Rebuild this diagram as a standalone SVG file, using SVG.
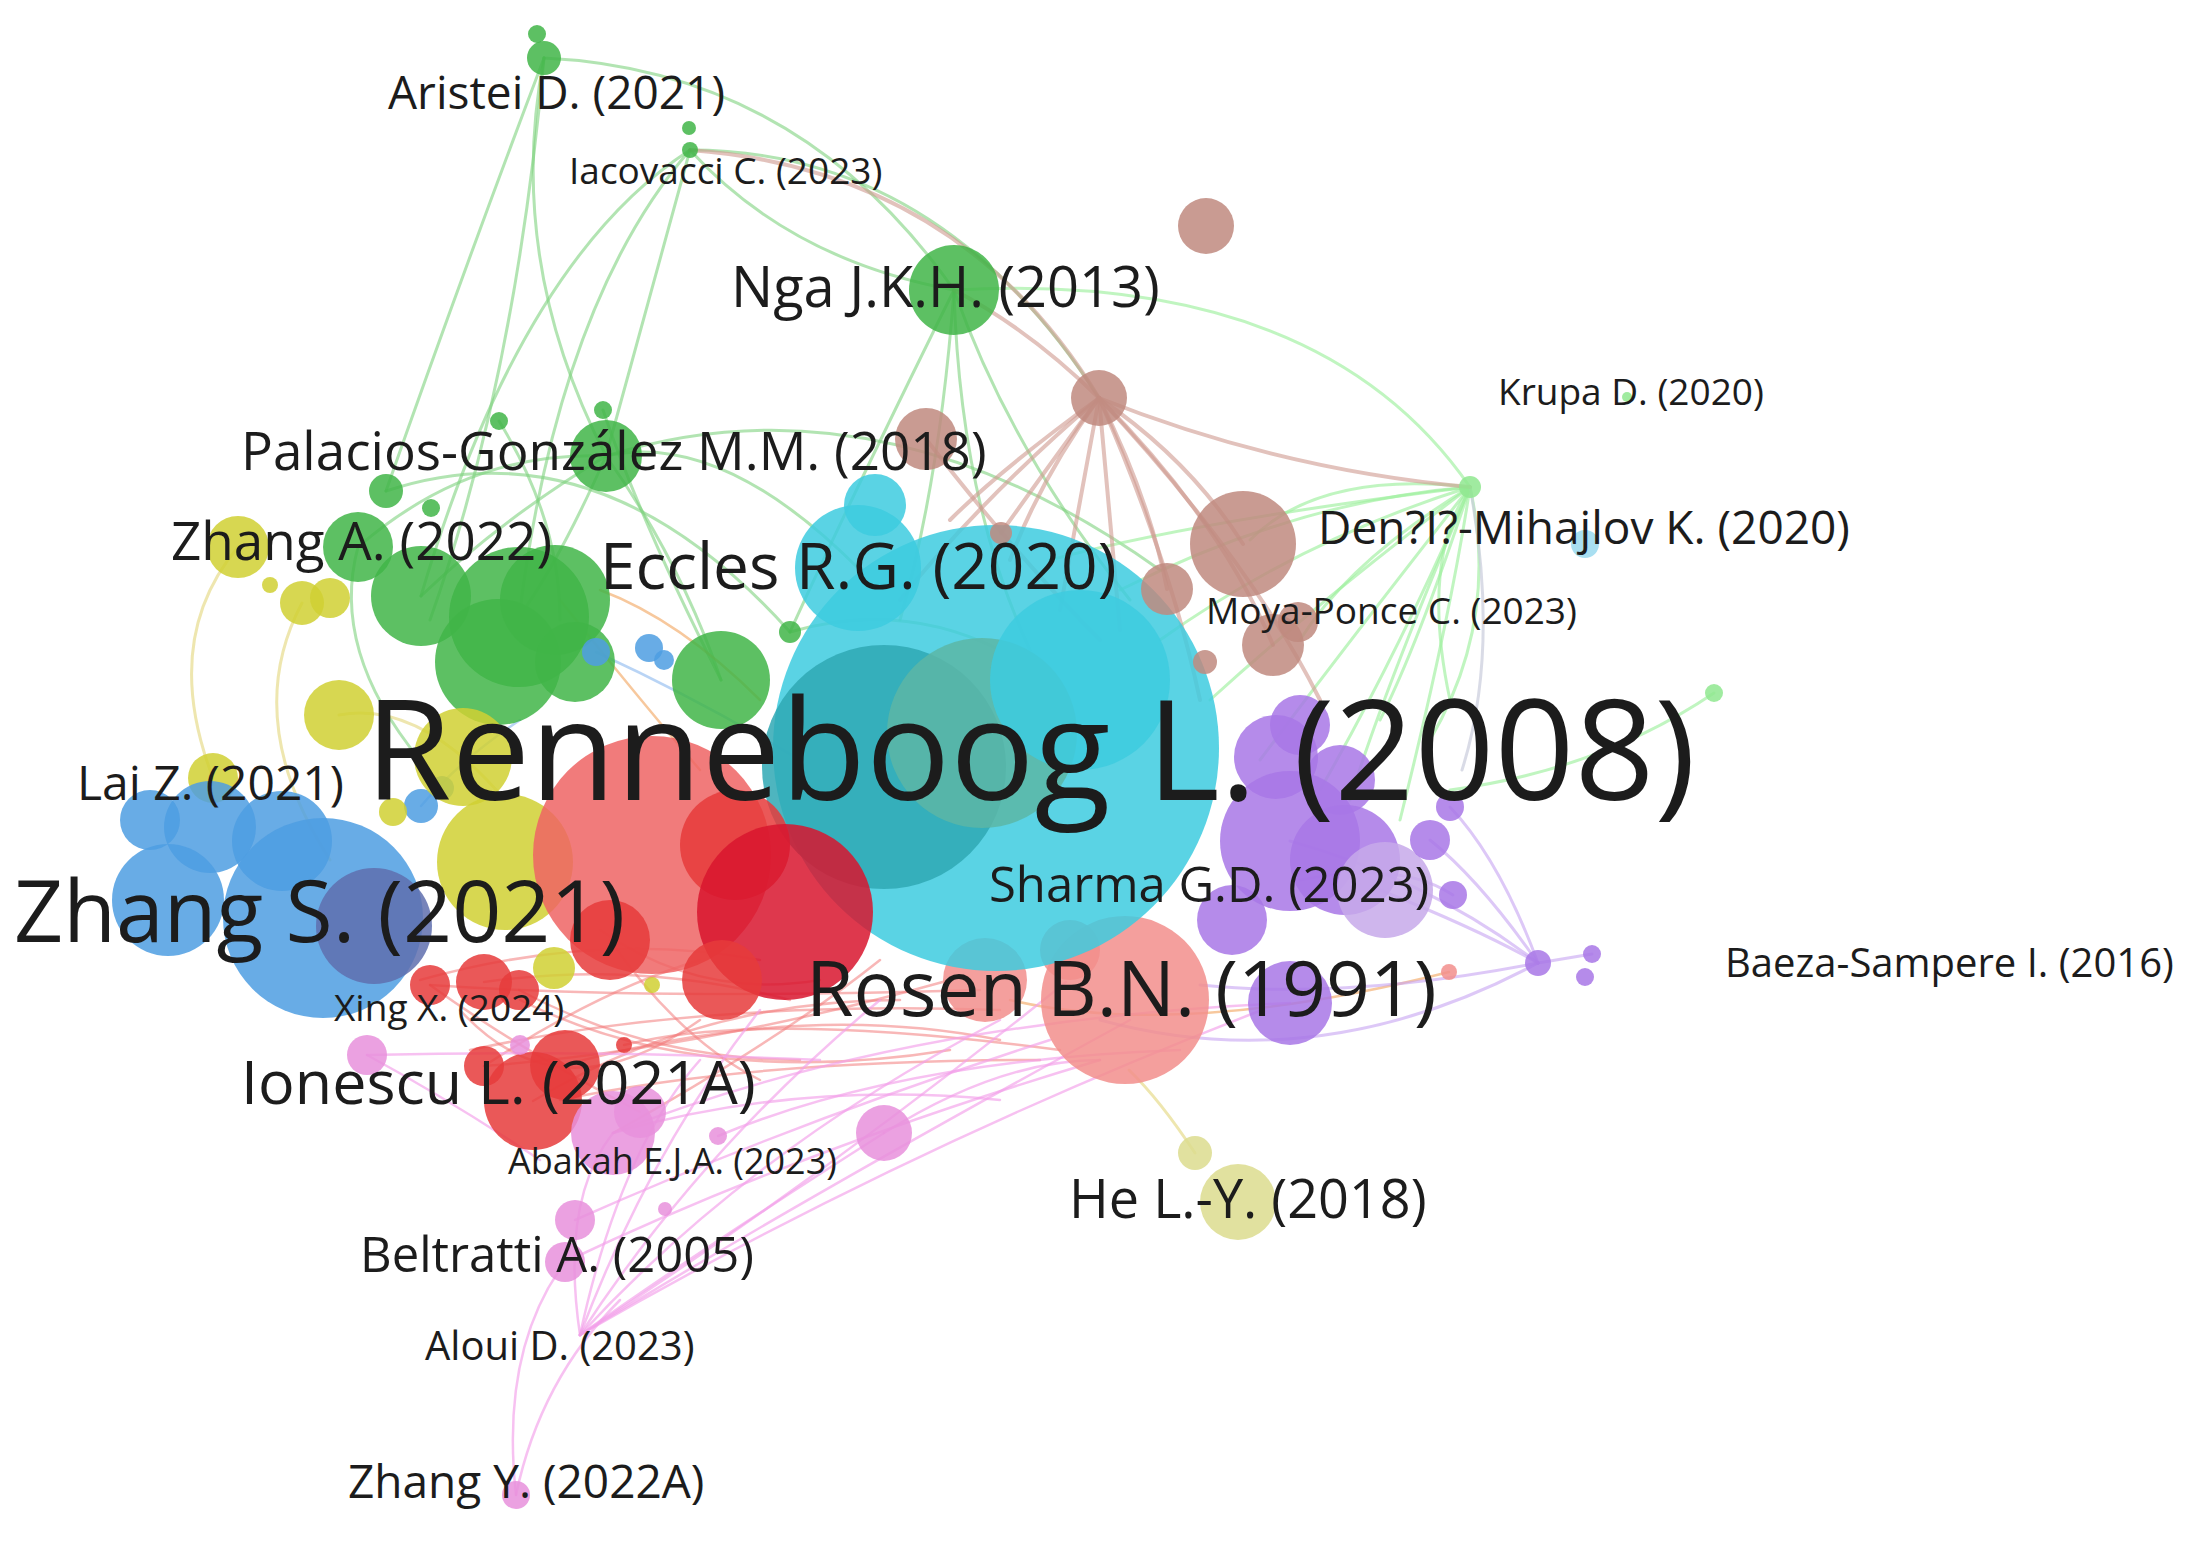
<svg xmlns="http://www.w3.org/2000/svg" width="2199" height="1544" viewBox="0 0 2199 1544">
<style>
.bg{fill:#ffffff}
.e{fill:none;stroke-linecap:round}
.eg{stroke:#7fd27f;stroke-opacity:.6;stroke-width:3}
.elg{stroke:#9ef09e;stroke-opacity:.65;stroke-width:3}
.egr{stroke:#c9ccdc;stroke-opacity:.7;stroke-width:3}
.ebr{stroke:#cf9a90;stroke-opacity:.6;stroke-width:4}
.er{stroke:#f27c7c;stroke-opacity:.55;stroke-width:2.5}
.epk{stroke:#f3a0ea;stroke-opacity:.65;stroke-width:2.5}
.epu{stroke:#c7a4f2;stroke-opacity:.6;stroke-width:3}
.ey{stroke:#e2d67a;stroke-opacity:.6;stroke-width:3}
.eo{stroke:#f2a45c;stroke-opacity:.6;stroke-width:2.5}
.eb{stroke:#8ab8ee;stroke-opacity:.6;stroke-width:2.5}
.n{fill-opacity:.85}
.red{fill:#e63b3b}.dred{fill:#d8152e}.lred{fill:#ef6464}
.grn{fill:#41b548}.lgrn{fill:#8fe88f}
.blu{fill:#4d9de2}.dblu{fill:#5f6fae}
.yel{fill:#d0d033}.lyel{fill:#dcdc8e}
.pur{fill:#a877e6}.lpur{fill:#c7a9ea}
.cya{fill:#3dcbdf}.tea{fill:#2fa8b4}.gtea{fill:#5cb6a6}.lcya{fill:#9ad9ee}
.brn{fill:#c08a7f}
.pnk{fill:#e791dc}
.sal{fill:#f28e8c}
.lbl{font-family:"Open Sans","Noto Sans","Liberation Sans",sans-serif;fill:#1c1c1c}
</style>
<rect class="bg" x="0" y="0" width="2199" height="1544"/>
<g id="edges">
<path class="e eg" d="M544,58 Q505,260 606,456"/>
<path class="e eg" d="M544,58 Q515,380 430,620"/>
<path class="e eg" d="M544,58 Q460,280 386,491"/>
<path class="e eg" d="M544,58 Q800,70 954,290"/>
<path class="e eg" d="M690,150 Q640,330 606,456"/>
<path class="e eg" d="M690,150 Q560,300 520,610"/>
<path class="e eg" d="M690,150 Q520,260 421,596"/>
<path class="e eg" d="M690,150 Q790,260 954,290"/>
<path class="e eg" d="M690,150 Q940,150 1099,398"/>
<path class="e eg" d="M606,456 Q880,370 1160,570"/>
<path class="e eg" d="M606,456 Q500,520 421,596"/>
<path class="e eg" d="M606,456 Q560,560 519,617"/>
<path class="e eg" d="M606,456 Q680,560 721,680"/>
<path class="e eg" d="M606,456 Q720,430 858,568"/>
<path class="e eg" d="M606,456 Q470,450 358,547"/>
<path class="e eg" d="M499,421 Q560,520 560,620"/>
<path class="e eg" d="M603,410 Q640,520 721,680"/>
<path class="e eg" d="M954,290 Q960,500 1030,650"/>
<path class="e eg" d="M954,290 Q1010,450 1130,600"/>
<path class="e eg" d="M954,290 Q940,480 900,620"/>
<path class="e eg" d="M954,290 Q850,500 790,632"/>
<path class="e eg" d="M358,547 Q330,650 420,760"/>
<path class="e eg" d="M386,491 Q600,420 790,632"/>
<path class="e eg" d="M790,632 Q900,600 1000,650"/>
<path class="e elg" d="M954,290 Q1320,270 1470,487"/>
<path class="e elg" d="M1470,487 Q1500,620 1430,740"/>
<path class="e elg" d="M1470,487 Q1300,540 1160,640"/>
<path class="e elg" d="M1470,487 Q1320,600 1210,700"/>
<path class="e elg" d="M1470,487 Q1350,640 1260,760"/>
<path class="e elg" d="M1470,487 Q1400,650 1320,790"/>
<path class="e elg" d="M1470,487 Q1420,640 1380,720"/>
<path class="e elg" d="M1470,487 Q1300,500 1120,590"/>
<path class="e elg" d="M1470,487 Q1320,470 1250,540"/>
<path class="e elg" d="M1470,487 Q1450,620 1400,820"/>
<path class="e elg" d="M1470,487 Q1350,560 1300,640"/>
<path class="e elg" d="M1470,487 Q1380,700 1350,800"/>
<path class="e elg" d="M1470,487 Q1200,520 1050,560"/>
<path class="e elg" d="M1470,487 Q1420,560 1450,700"/>
<path class="e elg" d="M1714,693 Q1600,770 1450,790"/>
<path class="e egr" d="M1470,487 Q1500,650 1462,770"/>
<path class="e ebr" d="M690,150 Q960,170 1099,398"/>
<path class="e ebr" d="M1099,398 Q1030,330 954,290"/>
<path class="e ebr" d="M1099,398 Q1040,480 1010,560"/>
<path class="e ebr" d="M1099,398 Q1080,500 1060,610"/>
<path class="e ebr" d="M1099,398 Q1110,520 1120,630"/>
<path class="e ebr" d="M1099,398 Q1150,500 1167,589"/>
<path class="e ebr" d="M1099,398 Q1190,460 1243,544"/>
<path class="e ebr" d="M1099,398 Q1220,520 1273,645"/>
<path class="e ebr" d="M1099,398 Q1170,560 1200,700"/>
<path class="e ebr" d="M1099,398 Q1000,470 950,520"/>
<path class="e ebr" d="M1099,398 Q980,500 900,600"/>
<path class="e ebr" d="M1099,398 Q1060,450 1001,533"/>
<path class="e ebr" d="M1099,398 Q1250,560 1320,700"/>
<path class="e ebr" d="M1099,398 Q1280,470 1470,487"/>
<path class="e ebr" d="M926,439 Q1020,560 1100,640"/>
<path class="e er" d="M484,982 Q640,960 790,1000"/>
<path class="e er" d="M533,1101 Q700,1000 900,1000"/>
<path class="e er" d="M565,1065 Q800,1000 1000,1040"/>
<path class="e er" d="M484,1066 Q700,1050 950,980"/>
<path class="e er" d="M420,980 Q600,930 760,960"/>
<path class="e er" d="M613,1133 Q780,1040 880,960"/>
<path class="e er" d="M519,990 Q650,1060 800,1060"/>
<path class="e er" d="M624,1045 Q760,1010 1060,1050"/>
<path class="e er" d="M460,1010 Q560,1120 700,1020"/>
<path class="e er" d="M600,930 Q700,1000 820,980"/>
<path class="e er" d="M430,985 Q650,1000 980,990"/>
<path class="e er" d="M470,1050 Q700,1000 1000,1010"/>
<path class="e er" d="M520,1000 Q700,1090 950,1050"/>
<path class="e er" d="M560,1100 Q750,1060 1040,1060"/>
<path class="e er" d="M610,940 Q680,1040 760,1080"/>
<path class="e er" d="M430,985 Q520,1050 640,1112"/>
<path class="e er" d="M484,1066 Q600,990 700,960"/>
<path class="e eo" d="M560,600 Q640,700 700,770"/>
<path class="e eo" d="M600,590 Q680,620 760,700"/>
<path class="e eo" d="M1010,1000 Q1180,1040 1449,972"/>
<path class="e epk" d="M516,1495 Q500,1350 565,1262"/>
<path class="e epk" d="M516,1495 Q540,1380 620,1300"/>
<path class="e epk" d="M580,1335 Q800,1200 1130,1020"/>
<path class="e epk" d="M580,1335 Q750,1150 1000,1020"/>
<path class="e epk" d="M580,1335 Q700,1150 880,1000"/>
<path class="e epk" d="M580,1335 Q650,1150 760,1010"/>
<path class="e epk" d="M580,1335 Q700,1250 884,1133"/>
<path class="e epk" d="M580,1335 Q560,1200 613,1133"/>
<path class="e epk" d="M580,1335 Q620,1150 700,1060"/>
<path class="e epk" d="M580,1335 Q900,1150 1262,1010"/>
<path class="e epk" d="M580,1335 Q820,1180 1066,982"/>
<path class="e epk" d="M575,1220 Q800,1120 1050,1040"/>
<path class="e epk" d="M565,1262 Q800,1150 1100,1060"/>
<path class="e epk" d="M613,1133 Q900,1020 1290,1003"/>
<path class="e epk" d="M613,1133 Q800,1080 1000,1100"/>
<path class="e epk" d="M367,1055 Q450,1100 540,1160"/>
<path class="e epk" d="M367,1055 Q600,1050 820,1060"/>
<path class="e epk" d="M884,1133 Q1000,1060 1100,1060"/>
<path class="e epk" d="M718,1136 Q900,1060 1180,1050"/>
<path class="e epu" d="M1538,963 Q1430,880 1290,841"/>
<path class="e epu" d="M1538,963 Q1480,880 1430,840"/>
<path class="e epu" d="M1538,963 Q1500,860 1450,807"/>
<path class="e epu" d="M1538,963 Q1480,930 1380,890"/>
<path class="e epu" d="M1538,963 Q1320,1080 1100,1020"/>
<path class="e epu" d="M1538,963 Q1350,1000 1200,985"/>
<path class="e epu" d="M1538,963 L1592,954"/>
<path class="e epu" d="M1453,895 Q1400,860 1300,880"/>
<path class="e ey" d="M1195,1153 Q1160,1100 1129,1070"/>
<path class="e ey" d="M238,547 Q160,640 213,778"/>
<path class="e ey" d="M302,603 Q240,720 330,860"/>
<path class="e ey" d="M339,715 Q420,700 505,800"/>
<path class="e eb" d="M596,652 Q700,700 800,760"/>
<path class="e eb" d="M421,806 Q460,760 520,720"/>
</g>
<g id="node-s2"><circle class="n sal" cx="985" cy="980" r="42"/></g>
<g id="node-s3"><circle class="n sal" cx="1070" cy="950" r="30"/></g>
<g id="node-s-rosen"><circle class="n sal" cx="1125" cy="1000" r="84"/></g>
<g id="node-cy-big"><circle class="n cya" cx="996" cy="748" r="223"/></g>
<g id="node-cy-a"><circle class="n tea" cx="884" cy="767" r="122" fill-opacity=".3"/></g>
<g id="node-cy-b"><circle class="n gtea" cx="982" cy="733" r="95" fill-opacity=".3"/></g>
<g id="node-cy-c"><circle class="n cya" cx="1080" cy="680" r="90" fill-opacity=".25"/></g>
<g id="node-cy-eccles"><circle class="n cya" cx="858" cy="568" r="63"/></g>
<g id="node-cy-top"><circle class="n cya" cx="875" cy="505" r="31"/></g>
<g id="node-cy-den"><circle class="n lcya" cx="1585" cy="544" r="14"/></g>
<g id="node-br1"><circle class="n brn" cx="1206" cy="226" r="28"/></g>
<g id="node-br2"><circle class="n brn" cx="1099" cy="398" r="28"/></g>
<g id="node-br3"><circle class="n brn" cx="926" cy="439" r="31"/></g>
<g id="node-br4"><circle class="n brn" cx="1243" cy="544" r="53"/></g>
<g id="node-br5"><circle class="n brn" cx="1167" cy="589" r="26"/></g>
<g id="node-br6"><circle class="n brn" cx="1273" cy="645" r="31"/></g>
<g id="node-br7"><circle class="n brn" cx="1298" cy="622" r="20"/></g>
<g id="node-br8"><circle class="n brn" cx="1001" cy="533" r="11"/></g>
<g id="node-br9"><circle class="n brn" cx="1205" cy="662" r="12"/></g>
<g id="node-g-aristei"><circle class="n grn" cx="544" cy="58" r="17"/></g>
<g id="node-g-aristei2"><circle class="n grn" cx="537" cy="34" r="9"/></g>
<g id="node-g-iacovacci"><circle class="n grn" cx="690" cy="150" r="8"/></g>
<g id="node-g-iac2"><circle class="n grn" cx="689" cy="128" r="7"/></g>
<g id="node-g-nga"><circle class="n grn" cx="954" cy="290" r="45"/></g>
<g id="node-g-palacios"><circle class="n grn" cx="606" cy="456" r="36"/></g>
<g id="node-g-p2"><circle class="n grn" cx="603" cy="410" r="9"/></g>
<g id="node-g-p3"><circle class="n grn" cx="499" cy="421" r="9"/></g>
<g id="node-g5"><circle class="n grn" cx="386" cy="491" r="17"/></g>
<g id="node-g6"><circle class="n grn" cx="431" cy="508" r="9"/></g>
<g id="node-y1"><circle class="n yel" cx="238" cy="547" r="31"/></g>
<g id="node-y2"><circle class="n yel" cx="302" cy="603" r="22"/></g>
<g id="node-y3"><circle class="n yel" cx="330" cy="598" r="20"/></g>
<g id="node-y4"><circle class="n yel" cx="270" cy="585" r="8"/></g>
<g id="node-g-zhanga"><circle class="n grn" cx="358" cy="547" r="35"/></g>
<g id="node-g8"><circle class="n grn" cx="421" cy="596" r="50"/></g>
<g id="node-g9"><circle class="n grn" cx="519" cy="617" r="70"/></g>
<g id="node-g10"><circle class="n grn" cx="498" cy="662" r="63"/></g>
<g id="node-g11"><circle class="n grn" cx="555" cy="600" r="55"/></g>
<g id="node-g12"><circle class="n grn" cx="575" cy="662" r="40"/></g>
<g id="node-g13"><circle class="n grn" cx="721" cy="680" r="49"/></g>
<g id="node-g14"><circle class="n grn" cx="790" cy="632" r="11"/></g>
<g id="node-lg-den"><circle class="n lgrn" cx="1470" cy="487" r="11"/></g>
<g id="node-lg2"><circle class="n lgrn" cx="1714" cy="693" r="9"/></g>
<g id="node-lg-krupa"><circle class="n lgrn" cx="1627" cy="397" r="5"/></g>
<g id="node-b6"><circle class="n blu" cx="596" cy="652" r="14"/></g>
<g id="node-b7"><circle class="n blu" cx="649" cy="648" r="14"/></g>
<g id="node-b8"><circle class="n blu" cx="664" cy="660" r="10"/></g>
<g id="node-y5"><circle class="n yel" cx="339" cy="715" r="35"/></g>
<g id="node-y6"><circle class="n yel" cx="213" cy="778" r="25"/></g>
<g id="node-b3"><circle class="n blu" cx="210" cy="827" r="46"/></g>
<g id="node-b2"><circle class="n blu" cx="168" cy="900" r="56"/></g>
<g id="node-b4"><circle class="n blu" cx="282" cy="841" r="50"/></g>
<g id="node-b11"><circle class="n blu" cx="150" cy="820" r="30"/></g>
<g id="node-b9"><circle class="n blu" cx="421" cy="806" r="17"/></g>
<g id="node-b10"><circle class="n blu" cx="442" cy="788" r="12"/></g>
<g id="node-y10"><circle class="n yel" cx="393" cy="812" r="14"/></g>
<g id="node-y7"><circle class="n yel" cx="463" cy="757" r="49"/></g>
<g id="node-y8"><circle class="n yel" cx="505" cy="862" r="68"/></g>
<g id="node-b-zhangs"><circle class="n blu" cx="323" cy="918" r="100"/></g>
<g id="node-b5"><circle class="n dblu" cx="374" cy="926" r="58"/></g>
<g id="node-r1"><circle class="n lred" cx="652" cy="855" r="119"/></g>
<g id="node-r3"><circle class="n red" cx="735" cy="845" r="55"/></g>
<g id="node-r10"><circle class="n red" cx="610" cy="940" r="40"/></g>
<g id="node-r2"><circle class="n dred" cx="785" cy="912" r="88"/></g>
<g id="node-r4"><circle class="n red" cx="722" cy="980" r="40"/></g>
<g id="node-y9"><circle class="n yel" cx="554" cy="968" r="21"/></g>
<g id="node-r8"><circle class="n red" cx="484" cy="982" r="28"/></g>
<g id="node-r9"><circle class="n red" cx="519" cy="990" r="20"/></g>
<g id="node-r12"><circle class="n red" cx="430" cy="985" r="20"/></g>
<g id="node-y11"><circle class="n yel" cx="652" cy="985" r="8"/></g>
<g id="node-r6"><circle class="n red" cx="565" cy="1065" r="35"/></g>
<g id="node-r7"><circle class="n red" cx="484" cy="1066" r="20"/></g>
<g id="node-r-ionescu"><circle class="n red" cx="533" cy="1101" r="49"/></g>
<g id="node-r11"><circle class="n red" cx="624" cy="1045" r="8"/></g>
<g id="node-r13"><circle class="n sal" cx="1449" cy="972" r="8"/></g>
<g id="node-p14"><circle class="n pur" cx="1300" cy="725" r="30"/></g>
<g id="node-p3"><circle class="n pur" cx="1276" cy="757" r="42"/></g>
<g id="node-p4"><circle class="n pur" cx="1340" cy="780" r="35"/></g>
<g id="node-p13"><circle class="n pur" cx="1232" cy="920" r="35"/></g>
<g id="node-p1"><circle class="n pur" cx="1290" cy="841" r="70"/></g>
<g id="node-p2"><circle class="n pur" cx="1345" cy="860" r="55"/></g>
<g id="node-p6"><circle class="n lpur" cx="1385" cy="890" r="48"/></g>
<g id="node-p5"><circle class="n pur" cx="1290" cy="1003" r="42"/></g>
<g id="node-p7"><circle class="n pur" cx="1430" cy="840" r="20"/></g>
<g id="node-p8"><circle class="n pur" cx="1450" cy="807" r="14"/></g>
<g id="node-p9"><circle class="n pur" cx="1453" cy="895" r="14"/></g>
<g id="node-p10"><circle class="n pur" cx="1538" cy="963" r="13"/></g>
<g id="node-p11"><circle class="n pur" cx="1592" cy="954" r="9"/></g>
<g id="node-p12"><circle class="n pur" cx="1585" cy="977" r="9"/></g>
<g id="node-hy2"><circle class="n lyel" cx="1195" cy="1153" r="17"/></g>
<g id="node-hy-he"><circle class="n lyel" cx="1238" cy="1202" r="38"/></g>
<g id="node-pk1"><circle class="n pnk" cx="367" cy="1055" r="20"/></g>
<g id="node-pk10"><circle class="n pnk" cx="520" cy="1045" r="10"/></g>
<g id="node-pk2"><circle class="n pnk" cx="613" cy="1133" r="42"/></g>
<g id="node-pk3"><circle class="n pnk" cx="640" cy="1112" r="26"/></g>
<g id="node-pk4"><circle class="n pnk" cx="884" cy="1133" r="28"/></g>
<g id="node-pk7"><circle class="n pnk" cx="718" cy="1136" r="9"/></g>
<g id="node-pk8"><circle class="n pnk" cx="665" cy="1209" r="7"/></g>
<g id="node-pk5"><circle class="n pnk" cx="575" cy="1220" r="20"/></g>
<g id="node-pk6"><circle class="n pnk" cx="565" cy="1262" r="20"/></g>
<g id="node-pk-zhangy"><circle class="n pnk" cx="516" cy="1495" r="14"/></g>
<g id="labels">
<text class="lbl" x="388" y="109" font-size="46">Aristei D. (2021)</text>
<text class="lbl" x="569" y="184" font-size="37">Iacovacci C. (2023)</text>
<text class="lbl" x="731" y="307" font-size="56">Nga J.K.H. (2013)</text>
<text class="lbl" x="1498" y="405" font-size="37">Krupa D. (2020)</text>
<text class="lbl" x="241" y="470" font-size="53">Palacios-González M.M. (2018)</text>
<text class="lbl" x="171" y="560" font-size="53">Zhang A. (2022)</text>
<text class="lbl" x="600" y="589" font-size="64">Eccles R.G. (2020)</text>
<text class="lbl" x="1318" y="544" font-size="46">Den?I?-Mihajlov K. (2020)</text>
<text class="lbl" x="1206" y="624" font-size="37">Moya-Ponce C. (2023)</text>
<text class="lbl" x="77" y="800" font-size="48">Lai Z. (2021)</text>
<text class="lbl" x="365" y="800" font-size="140">Renneboog L. (2008)</text>
<text class="lbl" x="14" y="942" font-size="86">Zhang S. (2021)</text>
<text class="lbl" x="989" y="902" font-size="49">Sharma G.D. (2023)</text>
<text class="lbl" x="1725" y="977" font-size="40">Baeza-Sampere I. (2016)</text>
<text class="lbl" x="806" y="1016" font-size="77">Rosen B.N. (1991)</text>
<text class="lbl" x="334" y="1021" font-size="37">Xing X. (2024)</text>
<text class="lbl" x="241" y="1104" font-size="61">Ionescu L. (2021A)</text>
<text class="lbl" x="508" y="1174" font-size="36">Abakah E.J.A. (2023)</text>
<text class="lbl" x="1069" y="1218" font-size="54">He L.-Y. (2018)</text>
<text class="lbl" x="360" y="1272" font-size="49">Beltratti A. (2005)</text>
<text class="lbl" x="425" y="1360" font-size="40">Aloui D. (2023)</text>
<text class="lbl" x="348" y="1498" font-size="46">Zhang Y. (2022A)</text>
</g>
</svg>
